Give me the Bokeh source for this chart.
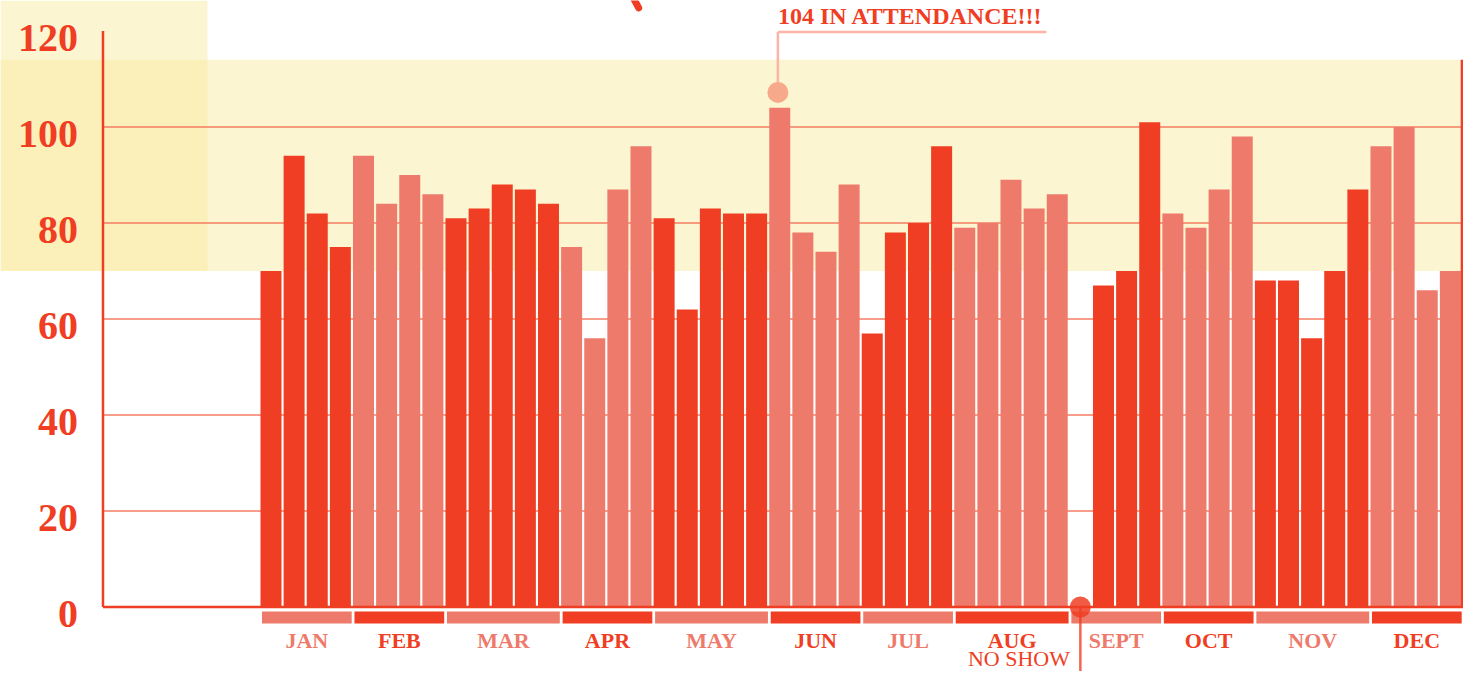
from bokeh.plotting import figure
from bokeh.core.properties import value
from bokeh.embed import file_html
from bokeh.resources import INLINE

# ---------------- data ----------------
months = ["JAN", "FEB", "MAR", "APR", "MAY", "JUN",
          "JUL", "AUG", "SEPT", "OCT", "NOV", "DEC"]
weeks_per_month = [4, 4, 5, 4, 5, 4, 4, 5, 4, 4, 5, 4]
attendance = [70, 94, 82, 75,
              94, 84, 90, 86,
              81, 83, 88, 87, 84,
              75, 56, 87, 96,
              81, 62, 83, 82, 82,
              104, 78, 74, 88,
              57, 78, 80, 96,
              79, 80, 89, 83, 86,
              None, 67, 70, 101,
              82, 79, 87, 98,
              68, 68, 56, 70, 87,
              96, 100, 66, 70]
y_ticks = [0, 20, 40, 60, 80, 100, 120]
grid_values = [20, 40, 60, 80, 100]
band_low, band_high = 70, 114
peak_label = "IN ATTENDANCE!!!"
no_show_label = "NO SHOW"

# ---------------- style ----------------
DARK = "#EF3E23"
LIGHT = "#EE7A6B"
GRID = "#F47C62"
YELLOW = "#F9EBA3"
PEAK_DOT = "#F6AA8B"
PEAK_LINE = "#FBB4A6"
FONT = value("Liberation Serif")

X_START, X_END = -11.197, 52.068
Y_START, Y_END = -13.44, 126.35
AXIS_X = -6.765
RIGHT_X = 52.0
BOX_RIGHT = -2.246
BAR_W = 0.908

p = figure(width=1463, height=671, x_range=(X_START, X_END), y_range=(Y_START, Y_END),
           output_backend="svg", toolbar_location=None, min_border=0,
           x_axis_location=None, y_axis_location=None)
p.grid.visible = False
p.outline_line_color = None
p.background_fill_color = "white"
p.border_fill_color = "white"

# yellow highlight regions
p.quad(left=[X_START], right=[RIGHT_X], bottom=[band_low], top=[band_high],
       fill_color=YELLOW, fill_alpha=0.5, line_color=None)
p.quad(left=[X_START], right=[BOX_RIGHT], bottom=[band_low], top=[Y_END],
       fill_color=YELLOW, fill_alpha=0.5, line_color=None)

# gridlines
p.segment(x0=[AXIS_X] * len(grid_values), x1=[RIGHT_X] * len(grid_values),
          y0=grid_values, y1=grid_values, line_color=GRID, line_width=1.6)

# bars
xs, tops, cols = [], [], []
idx = 0
for m, n in enumerate(weeks_per_month):
    for k in range(n):
        v = attendance[idx]
        if v is not None:
            xs.append(idx + 0.5)
            tops.append(v)
            cols.append(DARK if m % 2 == 0 else LIGHT)
        idx += 1
p.vbar(x=xs, top=tops, bottom=0, width=BAR_W, fill_color=cols, line_color=None)

# month strips and labels
starts, ends, scol, centers = [], [], [], []
s = 0
for m, n in enumerate(weeks_per_month):
    starts.append(s + 0.11)
    ends.append(s + n - 0.01)
    scol.append(LIGHT if m % 2 == 0 else DARK)
    centers.append(s + n / 2 + 0.05)
    s += n
p.quad(left=starts, right=ends, bottom=[-3.44] * 12, top=[-0.94] * 12,
       fill_color=scol, line_color=None)
p.text(x=centers, y=[-7.0] * 12, text=months, text_color=scol,
       text_font=FONT, text_font_style="bold", text_font_size="22px",
       text_align="center", text_baseline="middle")

# axes lines
p.segment(x0=[AXIS_X], x1=[AXIS_X], y0=[0], y1=[120], line_color=DARK, line_width=2.5)
p.segment(x0=[AXIS_X], x1=[X_END], y0=[0], y1=[0], line_color=DARK, line_width=2.5)
p.segment(x0=[RIGHT_X], x1=[RIGHT_X], y0=[0], y1=[band_high], line_color=DARK, line_width=2.5)

# y tick labels
p.text(x=[AXIS_X] * len(y_ticks), y=y_ticks, text=[str(t) for t in y_ticks],
       x_offset=-25, y_offset=7, text_color=DARK, text_font=FONT,
       text_font_style="bold", text_font_size="40px",
       text_align="right", text_baseline="middle")

# peak annotation
peak_val = max(v for v in attendance if v is not None)
peak_i = attendance.index(peak_val)
px = peak_i + 0.42
p.segment(x0=[px, px], x1=[px, 34.03], y0=[peak_val + 3.2, 119.8], y1=[119.8, 119.8],
          line_color=PEAK_LINE, line_width=2.5)
p.scatter(x=[px], y=[peak_val + 3.2], size=21, marker="circle",
          fill_color=PEAK_DOT, line_color=None)
p.text(x=[px], y=[123.1], text=[f"{peak_val} {peak_label}"], text_color=DARK,
       text_font=FONT, text_font_style="bold", text_font_size="24px",
       text_align="left", text_baseline="middle")

# no-show annotation
ns_i = attendance.index(None)
nx = ns_i + 0.5
p.segment(x0=[nx], x1=[nx], y0=[0], y1=[Y_START], line_color=DARK, line_alpha=0.8, line_width=2.5)
p.scatter(x=[nx], y=[0], size=21, marker="circle", fill_color=DARK, fill_alpha=0.85, line_color=None)
p.text(x=[nx - 0.45], y=[-10.7], text=[no_show_label], text_color=DARK,
       text_font=FONT, text_font_size="22px",
       text_align="right", text_baseline="middle")

# decorative stroke at top (cut-off doodle)
p.line(x=[16.1, 16.4], y=[127.5, 124.8], line_color=DARK, line_width=7, line_cap="round")

open("out.html", "w").write(file_html(p, INLINE))
